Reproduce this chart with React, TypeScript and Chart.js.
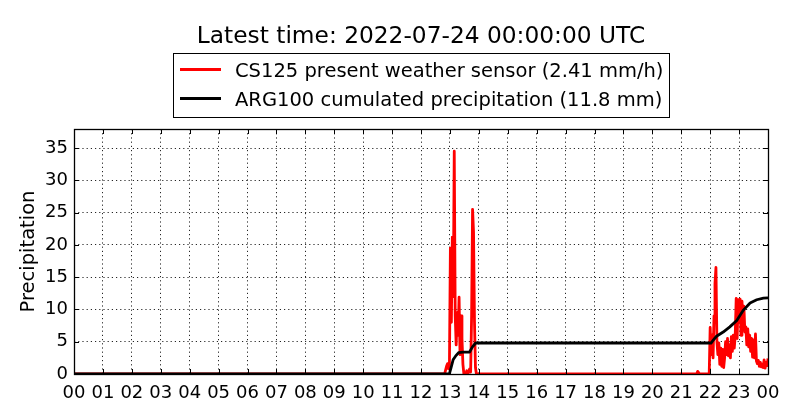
import React, { useEffect, useRef } from "react";
import { Chart, registerables } from "chart.js";

Chart.register(...registerables);

// ---- Data ----
const titleText = "Latest time: 2022-07-24 00:00:00 UTC";
const cs125Label = "CS125 present weather sensor (2.41 mm/h)";
const arg100Label = "ARG100 cumulated precipitation (11.8 mm)";

const hourLabels = [
  "00", "01", "02", "03", "04", "05", "06", "07", "08", "09", "10", "11",
  "12", "13", "14", "15", "16", "17", "18", "19", "20", "21", "22", "23", "00",
];
const yTickValues = [0, 5, 10, 15, 20, 25, 30, 35];

// CS125 intensity (mm/h), sampled every 2 minutes during the two rain bursts
const sampleStepMin = 2;
const burst1StartMin = 769; // 12:49
const burst1Values = [
  0, 0.6, 1.2, 1.6, 0.8, 1.5, 19.5, 8, 21.2, 12, 34.5, 9, 4.5, 9.5, 6, 11.9, 3, 9,
  5.5, 1.5, 0, 0.2, 0, 0.5, 0, 0.4, 0.8, 0.3, 9, 25.5, 22, 8, 1, 0, 0,
];
const burst2StartMin = 1290; // 21:30
const burst2Values = [
  0, 0, 0.4, 0.2, 0, 0, 0, 0, 0, 0, 0, 0, 0, 0, 0,
  7.2, 3, 6, 2.5, 9, 14, 16.5, 5, 3, 4.8, 1.5, 4, 1.2, 3.8, 1, 2.5, 5, 3, 5.5,
  2.8, 4.5, 2.5, 5.8, 3.5, 6, 4, 6, 11.7, 5.5, 11.5, 8, 11.6, 6, 11.3, 8.5, 10.5,
  6.5, 7.3, 4.5, 7, 4.2, 6, 3.5, 5.5, 2.6, 5.3, 2.5, 6.2, 2, 1.6, 2.1, 1.2, 1.8,
  1.1, 1.5, 1, 2.2, 0.9, 1.8, 1.3, 2.41,
];

// ARG100 cumulated precipitation (mm)
const arg100Hours = [
  0, 12.98, 13.04, 13.11, 13.2, 13.3, 13.45, 13.68, 13.78, 13.89, 22.03, 22.1,
  22.22, 22.45, 22.68, 22.92, 23.15, 23.38, 23.61, 23.84, 24,
];
const arg100Values = [
  0, 0, 1.0, 2.2, 2.8, 3.3, 3.4, 3.4, 4.2, 4.8, 4.8, 5.2, 5.85, 6.5, 7.3, 8.3,
  9.9, 11.0, 11.5, 11.76, 11.8,
];

const yMax = 37.95;

// ---- Helpers ----
function burstPoints(startMin: number, values: number[]) {
  return values.map((v, i) => ({ x: (startMin + i * sampleStepMin) / 60, y: v }));
}

const FONT = '"DejaVu Sans", "Liberation Sans", sans-serif';

const decorPlugin = {
  id: "decor",
  beforeDraw(chart: any) {
    const ctx = chart.ctx;
    ctx.save();
    ctx.fillStyle = "#ffffff";
    ctx.fillRect(0, 0, chart.width, chart.height);
    ctx.restore();
  },
  afterDraw(chart: any) {
    const ctx = chart.ctx;
    const { left, right, top, bottom } = chart.chartArea;
    const xs = chart.scales.x;
    const ys = chart.scales.y;
    ctx.save();
    // inward ticks on all four sides
    ctx.strokeStyle = "#000";
    ctx.lineWidth = 1;
    const tl = 5;
    xs.ticks.forEach((t: any) => {
      const px = Math.round(xs.getPixelForValue(t.value)) + 0.5;
      ctx.beginPath();
      ctx.moveTo(px, bottom);
      ctx.lineTo(px, bottom - tl);
      ctx.moveTo(px, top);
      ctx.lineTo(px, top + tl);
      ctx.stroke();
    });
    ys.ticks.forEach((t: any) => {
      const py = Math.round(ys.getPixelForValue(t.value)) + 0.5;
      ctx.beginPath();
      ctx.moveTo(left, py);
      ctx.lineTo(left + tl, py);
      ctx.moveTo(right, py);
      ctx.lineTo(right - tl, py);
      ctx.stroke();
    });
    // spines
    ctx.lineWidth = 1.3;
    ctx.strokeRect(Math.round(left) + 0.5, Math.round(top) + 0.5, Math.round(right - left), Math.round(bottom - top));

    // title
    ctx.fillStyle = "#000";
    ctx.font = `23.3px ${FONT}`;
    ctx.textAlign = "center";
    ctx.textBaseline = "alphabetic";
    ctx.fillText(titleText, (left + right) / 2, 42.5);

    // legend
    const ds = chart.data.datasets;
    const boxX = 173.5, boxY = 53.5, boxW = 496, boxH = 64;
    ctx.fillStyle = "#fff";
    ctx.fillRect(boxX, boxY, boxW, boxH);
    ctx.strokeStyle = "#000";
    ctx.lineWidth = 1;
    ctx.strokeRect(boxX, boxY, boxW, boxH);
    const rows = [ds[0], ds[1]];
    const rowY = [69.5, 98.5];
    ctx.font = `19.5px ${FONT}`;
    ctx.textAlign = "left";
    rows.forEach((d: any, i: number) => {
      ctx.strokeStyle = d.borderColor;
      ctx.lineWidth = 2.8;
      ctx.beginPath();
      ctx.moveTo(180, rowY[i]);
      ctx.lineTo(221, rowY[i]);
      ctx.stroke();
      ctx.fillStyle = "#000";
      ctx.fillText(d.label, 235, rowY[i] + 7.2);
    });
    ctx.restore();
  },
};

export default function App() {
  const canvasRef = useRef<HTMLCanvasElement | null>(null);

  useEffect(() => {
    if (!canvasRef.current) return;
    const cs125Data = [
      { x: 0, y: 0 },
      ...burstPoints(burst1StartMin, burst1Values),
      ...burstPoints(burst2StartMin, burst2Values),
    ];
    const arg100Data = arg100Hours.map((h, i) => ({ x: h, y: arg100Values[i] }));

    const chart = new Chart(canvasRef.current, {
      type: "line",
      data: {
        datasets: [
          {
            label: cs125Label,
            data: cs125Data,
            borderColor: "#ff0000",
            borderWidth: 2.8,
            pointRadius: 0,
            tension: 0,
            fill: false,
            clip: 0,
            order: 1,
            borderJoinStyle: "round",
          },
          {
            label: arg100Label,
            data: arg100Data,
            borderColor: "#000000",
            borderWidth: 2.8,
            pointRadius: 0,
            tension: 0,
            fill: false,
            clip: 0,
            order: 0,
            borderJoinStyle: "round",
          },
        ],
      },
      options: {
        animation: false,
        responsive: false,
        devicePixelRatio: 1,
        layout: { padding: { left: 0, top: 129, right: 32, bottom: 0 } },
        plugins: {
          legend: { display: false },
          title: { display: false },
          tooltip: { enabled: false },
        },
        events: [],
        scales: {
          x: {
            type: "linear",
            min: 0,
            max: 24,
            afterFit: (s: any) => {
              s.height = 46;
            },
            ticks: {
              stepSize: 1,
              maxTicksLimit: 100,
              autoSkip: false,
              maxRotation: 0,
              includeBounds: false,
              padding: 9,
              color: "#000",
              font: { family: FONT, size: 18 },
              callback: (v: any) => hourLabels[Math.round(Number(v))],
            },
            grid: {
              drawTicks: false,
              color: "rgba(0,0,0,0.85)",
              lineWidth: 1,
            },
            border: { display: false, dash: [1.2, 3] },
          },
          y: {
            type: "linear",
            min: 0,
            max: yMax,
            afterFit: (s: any) => {
              s.width = 74;
            },
            afterBuildTicks: (s: any) => {
              s.ticks = yTickValues.map((v) => ({ value: v }));
            },
            ticks: {
              stepSize: 5,
              includeBounds: false,
              padding: 6,
              color: "#000",
              font: { family: FONT, size: 18 },
            },
            grid: {
              drawTicks: false,
              color: "rgba(0,0,0,0.85)",
              lineWidth: 1,
            },
            border: { display: false, dash: [1.2, 3] },
            title: {
              display: true,
              text: "Precipitation",
              color: "#000",
              font: { family: FONT, size: 19.5 },
              padding: { top: 17, bottom: 0 },
            },
          },
        },
      },
      plugins: [decorPlugin],
    } as any);
    return () => chart.destroy();
  }, []);

  return (
    <div style={{ position: "fixed", left: 0, top: 0, width: 800, height: 420, background: "#fff" }}>
      <canvas ref={canvasRef} width={800} height={420} style={{ display: "block", width: 800, height: 420 }} />
    </div>
  );
}
